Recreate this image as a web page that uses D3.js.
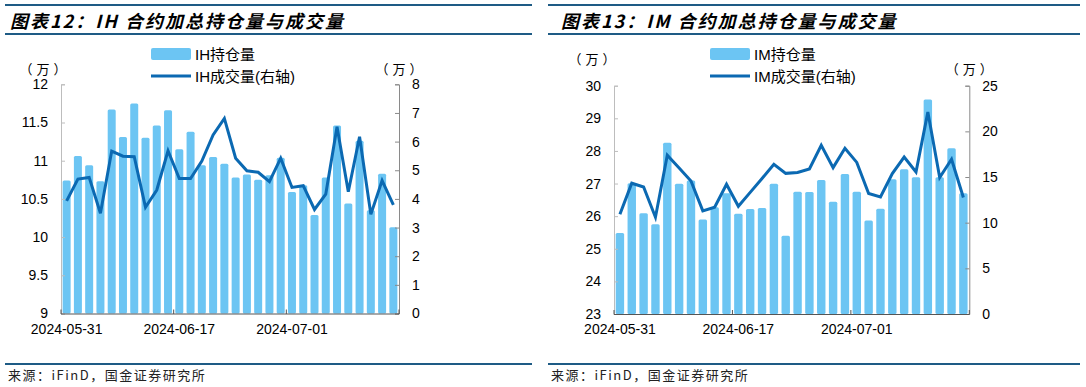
<!DOCTYPE html>
<html>
<head>
<meta charset="utf-8">
<script src="https://cdn.jsdelivr.net/npm/d3@7"></script>
<style>
  body { margin: 0; background: #fff; }
</style>
</head>
<body>
<div id="chart"></div>
<script>
// trading days shared by both panels
const dates = [
    '2024-05-31', '2024-06-03', '2024-06-04', '2024-06-05', '2024-06-06', '2024-06-07',
    '2024-06-11', '2024-06-12', '2024-06-13', '2024-06-14', '2024-06-17', '2024-06-18',
    '2024-06-19', '2024-06-20', '2024-06-21', '2024-06-24', '2024-06-25', '2024-06-26',
    '2024-06-27', '2024-06-28', '2024-07-01', '2024-07-02', '2024-07-03', '2024-07-04',
    '2024-07-05', '2024-07-08', '2024-07-09', '2024-07-10', '2024-07-11', '2024-07-12'
];
const dateLabels = ['2024-05-31', '2024-06-17', '2024-07-01'];

// IH (万)
const ihOpenInterest = [10.74, 11.06, 10.94, 10.73, 11.67, 11.31, 11.75, 11.30, 11.46, 11.66,
    11.15, 11.38, 10.94, 11.05, 10.96, 10.78, 10.82, 10.75, 10.81, 11.04,
    10.59, 10.68, 10.29, 10.78, 11.46, 10.44, 11.26, 10.35, 10.83, 10.13];
const ihVolume = [3.93, 4.69, 4.75, 3.50, 5.67, 5.49, 5.47, 3.71, 4.31, 5.68,
    4.71, 4.71, 5.32, 6.23, 6.81, 5.42, 4.98, 4.93, 4.60, 5.42,
    4.40, 4.46, 3.63, 4.17, 6.52, 4.25, 6.17, 3.46, 4.64, 3.79];
const ihLeftTicks = [9, 9.5, 10, 10.5, 11, 11.5, 12];
const ihRightTicks = [0, 1, 2, 3, 4, 5, 6, 7, 8];

// IM (万)
const imOpenInterest = [25.48, 27.01, 26.09, 25.75, 28.25, 26.99, 27.09, 25.90, 26.27, 26.70,
    26.07, 26.22, 26.25, 26.99, 25.40, 26.75, 26.74, 27.11, 26.44, 27.29,
    26.75, 25.87, 26.23, 27.13, 27.44, 27.19, 29.58, 27.19, 28.08, 26.70];
const imVolume = [10.93, 14.32, 13.91, 10.60, 17.38, 15.99, 14.57, 11.29, 11.70, 14.20,
    11.80, 13.32, 14.83, 16.39, 15.40, 15.50, 15.88, 18.47, 16.03, 18.15,
    16.60, 13.19, 12.82, 15.37, 17.19, 15.55, 22.11, 14.94, 16.94, 12.75];
const imLeftTicks = [23, 24, 25, 26, 27, 28, 29, 30];
const imRightTicks = [0, 5, 10, 15, 20, 25];

const W = 1086, H = 387;
const BAR_COLOR = '#6cc5f3';
const LINE_COLOR = '#0b69b2';
const RULE_COLOR = '#1e5b85';
const FONT = '"Liberation Sans", Arial, "Noto Sans CJK SC", sans-serif';
const CJK_FONT = '"Noto Sans CJK SC", sans-serif';

const svg = d3.select('#chart').append('svg')
    .attr('width', W)
    .attr('height', H)
    .style('font-family', FONT);

function styleAxis(g, color) {
    g.selectAll('.domain, .tick line').attr('stroke', color);
    g.selectAll('.tick text')
        .attr('fill', '#000')
        .style('font-size', '14px')
        .style('font-family', FONT);
}

function unitLabel(g, x, y) {
    // letter-spacing leaves a trailing gap, so nudge right by half of it
    g.append('text')
        .attr('x', x + 2).attr('y', y)
        .attr('text-anchor', 'middle')
        .style('font-family', CJK_FONT)
        .style('font-size', '13px')
        .style('letter-spacing', '4px')
        .attr('fill', '#000')
        .text('（万）');
}

function renderPanel(p) {
    const g = svg.append('g');

    // title block
    g.append('line').attr('x1', p.ruleX1).attr('x2', p.ruleX2).attr('y1', 5).attr('y2', 5)
        .attr('stroke', RULE_COLOR).attr('stroke-width', 2);
    g.append('line').attr('x1', p.ruleX1).attr('x2', p.ruleX2).attr('y1', 34).attr('y2', 34)
        .attr('stroke', RULE_COLOR).attr('stroke-width', 2);
    g.append('text')
        .attr('x', p.titleX).attr('y', 28)
        .text(p.title)
        .style('font-family', CJK_FONT)
        .style('font-size', '18px')
        .style('font-weight', 'bold')
        .style('font-style', 'italic')
        .style('letter-spacing', '2px')
        .attr('fill', '#000');

    // source block
    g.append('line').attr('x1', p.ruleX1).attr('x2', p.ruleX2).attr('y1', 364).attr('y2', 364)
        .attr('stroke', RULE_COLOR).attr('stroke-width', 2);
    g.append('text')
        .attr('x', p.ruleX1 + 3).attr('y', 380)
        .text('来源：iFinD，国金证券研究所')
        .style('font-family', CJK_FONT)
        .style('font-size', '13px')
        .style('letter-spacing', '1.5px')
        .attr('fill', '#222');

    const x = d3.scaleBand()
        .domain(dates)
        .range([p.left, p.right])
        .paddingInner(0.29)
        .paddingOuter(0.145);

    const yL = d3.scaleLinear()
        .domain(d3.extent(p.leftTicks))
        .range([p.bottom, p.top]);
    const yR = d3.scaleLinear()
        .domain(d3.extent(p.rightTicks))
        .range([p.bottom, p.top]);

    // bars
    g.selectAll('.oi-bar')
        .data(p.bars)
        .join('rect')
        .attr('class', 'oi-bar')
        .attr('x', (d, i) => x(dates[i]))
        .attr('y', d => yL(d))
        .attr('width', x.bandwidth())
        .attr('height', d => p.bottom - yL(d))
        .attr('rx', 1.5)
        .attr('fill', BAR_COLOR);

    // volume line
    const line = d3.line()
        .x((d, i) => x(dates[i]) + x.bandwidth() / 2)
        .y(d => yR(d));
    g.append('path')
        .datum(p.line)
        .attr('d', line)
        .attr('fill', 'none')
        .attr('stroke', LINE_COLOR)
        .attr('stroke-width', 3);

    // axes
    g.append('g')
        .attr('transform', `translate(${p.left},0)`)
        .call(d3.axisLeft(yL).tickValues(p.leftTicks).tickSize(-4).tickPadding(13).tickFormat(d => d))
        .call(sel => styleAxis(sel, '#bdbdbd'));

    g.append('g')
        .attr('transform', `translate(${p.right},0)`)
        .call(d3.axisRight(yR).tickValues(p.rightTicks).tickSize(-4).tickPadding(13).tickFormat(d => d))
        .call(sel => styleAxis(sel, '#8a8a8a'));

    const slotStart = d => x(d) - x.step() * x.paddingOuter();
    const bounds = dateLabels.map(slotStart).concat([p.right]);
    g.append('line')
        .attr('x1', p.left).attr('x2', p.right)
        .attr('y1', p.bottom + 0.5).attr('y2', p.bottom + 0.5)
        .attr('stroke', '#555');
    g.selectAll('.x-tick')
        .data(bounds)
        .join('line')
        .attr('class', 'x-tick')
        .attr('x1', d => d).attr('x2', d => d)
        .attr('y1', p.bottom - 4).attr('y2', p.bottom + 0.5)
        .attr('stroke', '#555');
    g.selectAll('.x-label')
        .data(dateLabels)
        .join('text')
        .attr('class', 'x-label')
        .attr('x', d => x(d) + x.bandwidth() / 2)
        .attr('y', p.bottom + 20)
        .attr('text-anchor', 'middle')
        .style('font-size', '14px')
        .attr('fill', '#000')
        .text(d => d);

    // units
    unitLabel(g, p.unitLX, p.unitLY);
    unitLabel(g, p.right, 74);

    // legend
    g.append('rect')
        .attr('x', p.legendX).attr('y', 48)
        .attr('width', 40).attr('height', 12).attr('rx', 2)
        .attr('fill', BAR_COLOR);
    g.append('text')
        .attr('x', p.legendX + 44).attr('y', 60)
        .style('font-size', '15px').attr('fill', '#000')
        .text(p.barName);
    g.append('line')
        .attr('x1', p.legendX).attr('x2', p.legendX + 40)
        .attr('y1', 76).attr('y2', 76)
        .attr('stroke', LINE_COLOR).attr('stroke-width', 3);
    g.append('text')
        .attr('x', p.legendX + 44).attr('y', 82)
        .style('font-size', '15px').attr('fill', '#000')
        .text(p.lineName);
}

renderPanel({
    title: '图表12：IH 合约加总持仓量与成交量',
    barName: 'IH持仓量',
    lineName: 'IH成交量(右轴)',
    bars: ihOpenInterest,
    line: ihVolume,
    leftTicks: ihLeftTicks,
    rightTicks: ihRightTicks,
    left: 61, right: 399, top: 84.3, bottom: 313.5,
    ruleX1: 5, ruleX2: 532, titleX: 10,
    legendX: 151,
    unitLX: 43, unitLY: 74
});

renderPanel({
    title: '图表13：IM 合约加总持仓量与成交量',
    barName: 'IM持仓量',
    lineName: 'IM成交量(右轴)',
    bars: imOpenInterest,
    line: imVolume,
    leftTicks: imLeftTicks,
    rightTicks: imRightTicks,
    left: 614, right: 969.3, top: 85.7, bottom: 314,
    ruleX1: 548, ruleX2: 1080, titleX: 561,
    legendX: 710,
    unitLX: 592, unitLY: 64
});
</script>
</body>
</html>
